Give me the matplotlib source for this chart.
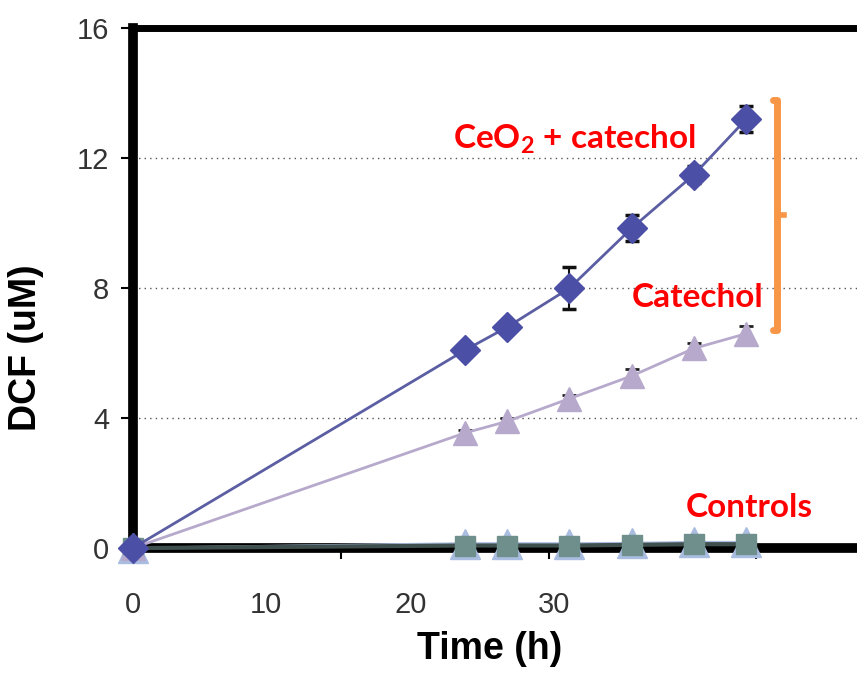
import matplotlib
matplotlib.use("Agg")
import matplotlib.pyplot as plt

plt.rcParams["font.family"] = ["Liberation Sans", "DejaVu Sans"]

# data
time_h = [0, 16, 18, 21, 24, 27, 29.5]
ceo2_catechol = [0, 6.1, 6.8, 8.0, 9.85, 11.5, 13.2]
ceo2_catechol_err = [0, 0.12, 0.12, 0.65, 0.4, 0.25, 0.4]
catechol = [0, 3.55, 3.9, 4.6, 5.3, 6.15, 6.6]
catechol_err = [0, 0.1, 0.1, 0.1, 0.2, 0.15, 0.25]
ctrl_a = [0, 0.08, 0.08, 0.08, 0.1, 0.12, 0.12]
ctrl_b = [0, 0.14, 0.14, 0.14, 0.15, 0.18, 0.18]

yticks = [0, 4, 8, 12, 16]
xtick_marks = [10, 20, 30]
# label positions as drawn in the source image (they don't sit on the tick marks)
xlabel_pos = [0, 6.4, 13.35, 20.25]
xlabel_txt = ["0", "10", "20", "30"]

fig = plt.figure(figsize=(8.57, 6.75), dpi=100)
ax = fig.add_axes([0.155, 0.188, 0.849, 0.770])
ax.set_xlim(0, 35)
ax.set_ylim(0, 16)

for y in [4, 8, 12]:
    ax.axhline(y, color="#555555", lw=1.0, ls=(0, (1, 3)), zorder=0)

ax.plot(time_h, ctrl_b, color="#a9bde0", lw=2, marker="^", ms=21,
        mec="#a9bde0", mfc="#a9bde0", zorder=4, clip_on=False)
ax.plot(time_h, ctrl_a, color="#3f4f4d", lw=3, marker="s", ms=14,
        mfc="#6f8f8c", mec="#6f8f8c", zorder=5, clip_on=False)

cat = ax.errorbar(time_h, catechol, yerr=catechol_err, color="#b6a9cc", lw=2,
                  marker="^", ms=17, mfc="#b6a9cc", mec="#b6a9cc",
                  ecolor="#222222", elinewidth=1.5, capsize=5, capthick=2, zorder=6)
ceo = ax.errorbar(time_h, ceo2_catechol, yerr=ceo2_catechol_err, color="#5b5ea3", lw=2,
                  marker="D", ms=15, mfc="#4b4fa6", mec="#4b4fa6",
                  ecolor="#111111", elinewidth=1.5, capsize=5, capthick=2.5, zorder=7)
for eb in (cat, ceo):
    for art in eb.lines[0:1] + eb.lines[1] + eb.lines[2]:
        art.set_clip_on(False)

for side in ["left", "bottom"]:
    ax.spines[side].set_linewidth(7)
    ax.spines[side].set_zorder(3)
ax.spines["top"].set_linewidth(5)
ax.spines["right"].set_visible(False)

ax.set_yticks(yticks)
ax.tick_params(axis="y", direction="out", length=9, width=1.5, pad=8,
               labelsize=21, labelcolor="#333333")
ax.set_xticks(xtick_marks)
ax.set_xticklabels([])
ax.set_xticks(xlabel_pos, minor=True)
ax.set_xticklabels(xlabel_txt, minor=True)
ax.tick_params(axis="x", which="major", direction="out", length=8, width=1.5)
ax.tick_params(axis="x", which="minor", length=0, pad=31, labelsize=21,
               labelcolor="#333333")

ax.set_ylabel("DCF (uM)", fontsize=27, fontweight="bold")
ax.yaxis.set_label_coords(-0.122, 0.385)
ax.set_xlabel("Time (h)", fontsize=27, fontweight="bold")
ax.xaxis.set_label_coords(0.49, -0.16)

red = "#ff0000"
fam = ["Lato", "DejaVu Sans"]
ax.text(15.4, 12.6, "CeO$_\\mathregular{2}$ + catechol", color=red, fontsize=24,
        fontweight="bold", family=fam, va="center")
ax.text(24.0, 7.7, "Catechol", color=red, fontsize=24, fontweight="bold",
        family=fam, va="center")
ax.text(26.6, 1.25, "Controls", color=red, fontsize=24, fontweight="bold",
        family=fam, va="center")

# orange bracket
orange = "#f79646"
ax.plot([30.8, 31.0, 31.0, 30.8], [13.8, 13.8, 6.7, 6.7], color=orange, lw=5,
        solid_joinstyle="round", solid_capstyle="round", zorder=8)
ax.plot([31.0, 31.3], [10.25, 10.25], color=orange, lw=4, zorder=8)

fig.savefig("out.png", dpi=100)
